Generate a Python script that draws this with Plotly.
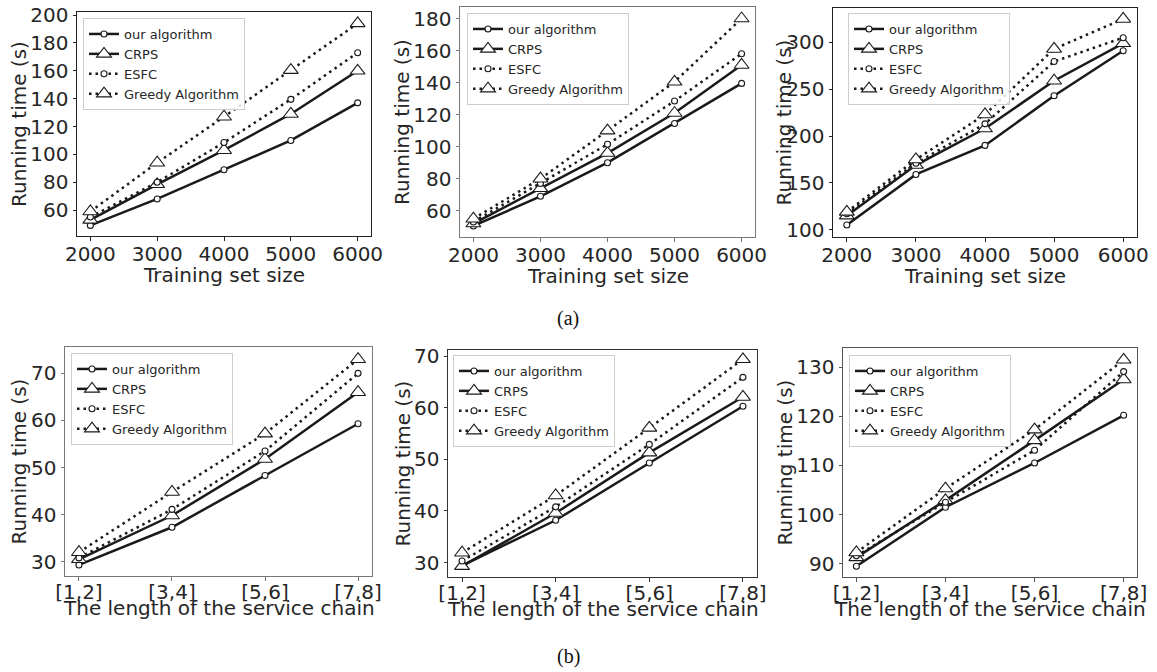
import plotly.graph_objects as go

W, H = 1157, 672

series_names = ["our algorithm", "CRPS", "ESFC", "Greedy Algorithm"]
train_sizes = [2000, 3000, 4000, 5000, 6000]
chain_lengths = ["[1,2]", "[3,4]", "[5,6]", "[7,8]"]

a1_ours = [49, 68, 89, 110, 137]
a1_crps = [53, 78.5, 103, 129, 160]
a1_esfc = [55, 80, 108.5, 139.5, 173]
a1_greedy = [59, 94, 127, 160.5, 194]

a2_ours = [50.5, 69, 90, 114.5, 139.5]
a2_crps = [52, 74, 96, 121, 151]
a2_esfc = [53, 77, 101.5, 128.5, 158]
a2_greedy = [55, 80, 110, 140.5, 180]

a3_ours = [105, 159, 190, 243, 291]
a3_crps = [115, 169, 208, 259, 299]
a3_esfc = [117, 171, 213, 279.5, 305]
a3_greedy = [119, 175, 223, 293, 325]

b1_ours = [29.3, 37.3, 48.3, 59.3]
b1_crps = [30.5, 39.8, 51.8, 66]
b1_esfc = [30.8, 41.1, 53.5, 70]
b1_greedy = [32, 44.8, 57.2, 73]

b2_ours = [29.4, 38.2, 49.3, 60.3]
b2_crps = [29.3, 39.6, 51.3, 62.1]
b2_esfc = [30.3, 40.8, 52.9, 65.9]
b2_greedy = [31.9, 43, 56.1, 69.4]

b3_ours = [89.5, 101.5, 110.5, 120.2]
b3_crps = [91.3, 102.9, 115.1, 127.5]
b3_esfc = [91.6, 102.5, 113.1, 129.1]
b3_greedy = [92.3, 105.3, 117.3, 131.5]

panels = [
    dict(x=train_sizes, data=[a1_ours, a1_crps, a1_esfc, a1_greedy], box=(77, 371, 12, 236),
         xr=[1800, 6200], yr=[41.4, 202.2], dt=20, leg=(83, 18), fc="#222222", yt=19,
         xtitle="Training set size", xtoff=39, tso=-4),
    dict(x=train_sizes, data=[a2_ours, a2_crps, a2_esfc, a2_greedy], box=(460, 755, 7, 237),
         xr=[1800, 6200], yr=[43.6, 187.2], dt=20, leg=(467, 13), fc="#777777", yt=402,
         xtitle="Training set size", xtoff=39, tso=-4),
    dict(x=train_sizes, data=[a3_ours, a3_crps, a3_esfc, a3_greedy], box=(833, 1137, 8, 237),
         xr=[1800, 6200], yr=[92.2, 336.7], dt=50, leg=(848, 13), fc="#222222", yt=784,
         xtitle="Training set size", xtoff=39, tso=-4),
    dict(x=chain_lengths, data=[b1_ours, b1_crps, b1_esfc, b1_greedy], box=(65, 372, 347, 576),
         xr=[-0.15, 3.15], yr=[26.95, 75.6], dt=10, leg=(71, 353), fc="#777777", yt=19,
         xtitle="The length of the service chain", xtoff=32, tso=-6),
    dict(x=chain_lengths, data=[b2_ours, b2_crps, b2_esfc, b2_greedy], box=(448, 757, 350, 577),
         xr=[-0.15, 3.15], yr=[27.2, 71.2], dt=10, leg=(453, 355), fc="#333333", yt=402,
         xtitle="The length of the service chain", xtoff=32, tso=-6),
    dict(x=chain_lengths, data=[b3_ours, b3_crps, b3_esfc, b3_greedy], box=(843, 1137, 348, 577),
         xr=[-0.15, 3.15], yr=[87.3, 133.9], dt=10, leg=(849, 355), fc="#555555", yt=784,
         xtitle="The length of the service chain", xtoff=32, tso=-6),
]

styles = [
    dict(dash="solid", symbol="circle", size=6),
    dict(dash="solid", symbol="triangle-up", size=13),
    dict(dash="2.5px,4px", symbol="circle", size=6),
    dict(dash="2.5px,4px", symbol="triangle-up", size=13),
]

LINE = "#1a1a1a"
TXT = "#262626"
FONT = "DejaVu Sans"

fig = go.Figure()
layout = dict(width=W, height=H, margin=dict(l=0, r=0, t=0, b=0, pad=0, autoexpand=False),
              paper_bgcolor="white", plot_bgcolor="white", showlegend=True,
              font=dict(family=FONT, color=TXT))
annotations = []

for i, p in enumerate(panels):
    n = i + 1
    xa = "x" if n == 1 else f"x{n}"
    ya = "y" if n == 1 else f"y{n}"
    legname = "legend" if n == 1 else f"legend{n}"
    for name, vals, st in zip(series_names, p["data"], styles):
        fig.add_trace(go.Scatter(
            x=p["x"], y=vals, name=name, mode="lines+markers",
            xaxis=xa, yaxis=ya, legend=legname,
            line=dict(color=LINE, width=2.5, dash=st["dash"]),
            marker=dict(symbol=st["symbol"], size=st["size"], color="white",
                        line=dict(color=LINE, width=1.1)),
        ))
    x0, x1, y0, y1 = p["box"]
    axcommon = dict(showgrid=False, zeroline=False, showline=True, mirror=True,
                    linecolor=p["fc"], linewidth=1, ticks="outside", ticklen=3.5,
                    automargin=False,
                    tickcolor=p["fc"], tickfont=dict(size=20, color=TXT, family=FONT))
    xkey = "xaxis" if n == 1 else f"xaxis{n}"
    ykey = "yaxis" if n == 1 else f"yaxis{n}"
    xax = dict(domain=[x0 / W, x1 / W], anchor=ya, range=p["xr"],
               ticklabelstandoff=p["tso"], **axcommon)
    if isinstance(p["x"][0], str):
        xax["type"] = "category"
    else:
        xax["tickvals"] = train_sizes
    layout[xkey] = xax
    layout[ykey] = dict(domain=[1 - y1 / H, 1 - y0 / H], anchor=xa, range=p["yr"],
                        dtick=p["dt"], tick0=0, **axcommon)
    layout[legname] = dict(x=p["leg"][0] / W, y=1 - p["leg"][1] / H, xanchor="left", yanchor="top",
                           bgcolor="rgba(255,255,255,0.85)", bordercolor="#cccccc", borderwidth=1,
                           font=dict(size=13, color=TXT, family=FONT), tracegroupgap=0)
    annotations.append(dict(text="Running time (s)", x=p["yt"] / W, y=1 - ((y0 + y1) / 2) / H,
                            xref="paper", yref="paper", showarrow=False, textangle=-90,
                            xanchor="center", yanchor="middle",
                            font=dict(size=20, color=TXT, family=FONT)))
    annotations.append(dict(text=p["xtitle"], x=((x0 + x1) / 2) / W, y=1 - (y1 + p["xtoff"]) / H,
                            xref="paper", yref="paper", showarrow=False,
                            xanchor="center", yanchor="middle",
                            font=dict(size=20, color=TXT, family=FONT)))

annotations.append(dict(text="(a)", x=568 / W, y=1 - 318 / H, xref="paper", yref="paper",
                        showarrow=False, xanchor="center", yanchor="middle",
                        font=dict(size=20, color="#111111", family="Liberation Serif")))
annotations.append(dict(text="(b)", x=568 / W, y=1 - 656 / H, xref="paper", yref="paper",
                        showarrow=False, xanchor="center", yanchor="middle",
                        font=dict(size=20, color="#111111", family="Liberation Serif")))

layout["annotations"] = annotations
fig.update_layout(**layout)
fig.write_html("out.html", config={"displayModeBar": False, "staticPlot": True},
               post_script="document.body.style.margin='0px';document.body.style.overflow='hidden';")
